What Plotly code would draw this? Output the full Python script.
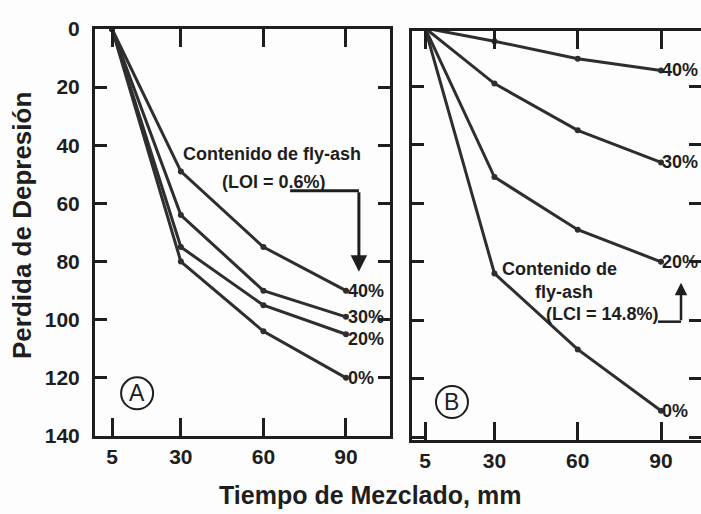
import plotly.graph_objects as go

# ---- data ----
tiempo = [5, 30, 60, 90]
x_ticks = [5, 30, 60, 90]
y_ticks = [0, 20, 40, 60, 80, 100, 120, 140]
series_names = ["40%", "30%", "20%", "0%"]

# Panel A (LOI = 0.6%)
a_40 = [0, 49, 75, 90]
a_30 = [0, 64, 90, 99]
a_20 = [0, 75, 95, 105]
a_0 = [0, 80, 104, 120]

# Panel B (LCI = 14.8%)
b_40 = [0, 4.5, 10.5, 14.5]
b_30 = [0, 19, 35, 46]
b_20 = [0, 51, 69, 80]
b_0 = [0, 84, 110, 131]

panel_a = [a_40, a_30, a_20, a_0]
panel_b = [b_40, b_30, b_20, b_0]

LINE = "#2e2e2e"
DARK = "#1e1e1e"
SANS = "Liberation Sans, Arial, sans-serif"

fig = go.Figure()

for vals, name in zip(panel_a, series_names):
    fig.add_trace(go.Scatter(x=tiempo, y=vals, mode="lines+markers", name=name,
                             line=dict(color=LINE, width=3),
                             marker=dict(color=LINE, size=6),
                             xaxis="x", yaxis="y", showlegend=False))
for vals, name in zip(panel_b, series_names):
    fig.add_trace(go.Scatter(x=tiempo, y=vals, mode="lines+markers", name=name,
                             line=dict(color=LINE, width=3),
                             marker=dict(color=LINE, size=6),
                             xaxis="x2", yaxis="y2", showlegend=False))

W, H = 701, 514
axis_common = dict(showline=True, linecolor=DARK, linewidth=3,
                   ticks="inside", tickcolor=DARK, tickwidth=3,
                   showgrid=False, zeroline=False, mirror="ticks",
                   automargin=False)

tickfont = dict(family=SANS, size=21, color=DARK, weight="bold")

fig.update_layout(
    width=W, height=H,
    margin=dict(l=0, r=0, t=0, b=0, pad=0),
    paper_bgcolor="#fdfdfd", plot_bgcolor="#fdfdfd",
    xaxis=dict(domain=[95 / W, 390 / W], range=[-1.2, 106], tickvals=x_ticks,
               ticklen=18, tickfont=tickfont, ticklabelstandoff=0,
               anchor="y", **axis_common),
    yaxis=dict(domain=[1 - 436 / H, 1 - 29 / H], range=[140, 0], tickvals=y_ticks,
               ticklen=12, tickfont=tickfont, ticklabelstandoff=8,
               anchor="x", **axis_common),
    xaxis2=dict(domain=[412 / W, 1.0], range=[0.3, 104.4], tickvals=x_ticks,
                ticklen=18, tickfont=tickfont, ticklabelstandoff=0,
                anchor="y2", **axis_common),
    yaxis2=dict(domain=[1 - 440 / H, 1 - 31 / H], range=[141, 1], tickvals=y_ticks,
                ticklen=12, showticklabels=False, anchor="x2", **axis_common),
)

lab_font = dict(family=SANS, size=18, color=DARK, weight="bold")

# end labels
a_shift = [0, 0, -5, 0]
for vals, name, ys in zip(panel_a, series_names, a_shift):
    fig.add_annotation(x=tiempo[-1], y=vals[-1], xref="x", yref="y", text=name,
                       showarrow=False, xanchor="left", xshift=0, yshift=ys,
                       font=lab_font)
for vals, name in zip(panel_b, series_names):
    fig.add_annotation(x=tiempo[-1], y=vals[-1], xref="x2", yref="y2", text=name,
                       showarrow=False, xanchor="left", xshift=-1,
                       font=lab_font)

# Panel A annotation
fig.add_annotation(x=63, y=43, xref="x", yref="y", text="Contenido de fly-ash",
                   showarrow=False, font=lab_font)
fig.add_annotation(x=64, y=52.5, xref="x", yref="y", text="(LOI = 0.6%)",
                   showarrow=False, font=lab_font)
fig.add_shape(type="line", xref="x", yref="y", x0=69.7, x1=94.7, y0=55.6, y1=55.6,
              line=dict(color=DARK, width=3))
fig.add_annotation(x=94.7, y=83.5, ax=94.7, ay=55.6, xref="x", yref="y",
                   axref="x", ayref="y", text="", showarrow=True,
                   arrowhead=2, arrowsize=1.1, arrowwidth=3, arrowcolor=DARK)

# Panel B annotation
fig.add_annotation(x=53.6, y=82.6, xref="x2", yref="y2", text="Contenido de",
                   showarrow=False, font=lab_font)
fig.add_annotation(x=55.1, y=90.2, xref="x2", yref="y2", text="fly-ash",
                   showarrow=False, font=lab_font)
fig.add_annotation(x=68.8, y=97.9, xref="x2", yref="y2", text="(LCI = 14.8%)",
                   showarrow=False, font=lab_font)
fig.add_shape(type="line", xref="x2", yref="y2", x0=88.9, x1=97.2, y0=100.5, y1=100.5,
              line=dict(color=DARK, width=2.5))
fig.add_annotation(x=97.2, y=87.2, ax=97.2, ay=100.5, xref="x2", yref="y2",
                   axref="x2", ayref="y2", text="", showarrow=True,
                   arrowhead=2, arrowsize=1, arrowwidth=2.5, arrowcolor=DARK)

# circled panel letters
for xr, yr, cx, cy, letter in [("x", "y", 14.1, 125.3, "A"), ("x2", "y2", 14.7, 128, "B")]:
    fig.add_shape(type="circle", xref=xr, yref=yr, xsizemode="pixel", ysizemode="pixel",
                  xanchor=cx, yanchor=cy, x0=-16, x1=16, y0=-16, y1=16,
                  line=dict(color=DARK, width=2))
    fig.add_annotation(x=cx, y=cy, xref=xr, yref=yr, text=letter, showarrow=False,
                       font=dict(family=SANS, size=23, color=DARK))

# axis titles
fig.add_annotation(x=22 / W, y=1 - 226 / H, xref="paper", yref="paper",
                   xanchor="center", yanchor="middle",
                   text="Perdida de Depresión", textangle=-90, showarrow=False,
                   font=dict(family=SANS, size=26, color=DARK, weight="bold"))
fig.add_annotation(x=370 / W, y=1 - 495 / H, xref="paper", yref="paper",
                   xanchor="center", yanchor="middle",
                   text="Tiempo de Mezclado, mm", showarrow=False,
                   font=dict(family=SANS, size=25, color=DARK, weight="bold"))

fig.write_html("out.html", config={"displayModeBar": False},
               post_script="document.body.style.margin='0';document.body.style.overflow='hidden';")
